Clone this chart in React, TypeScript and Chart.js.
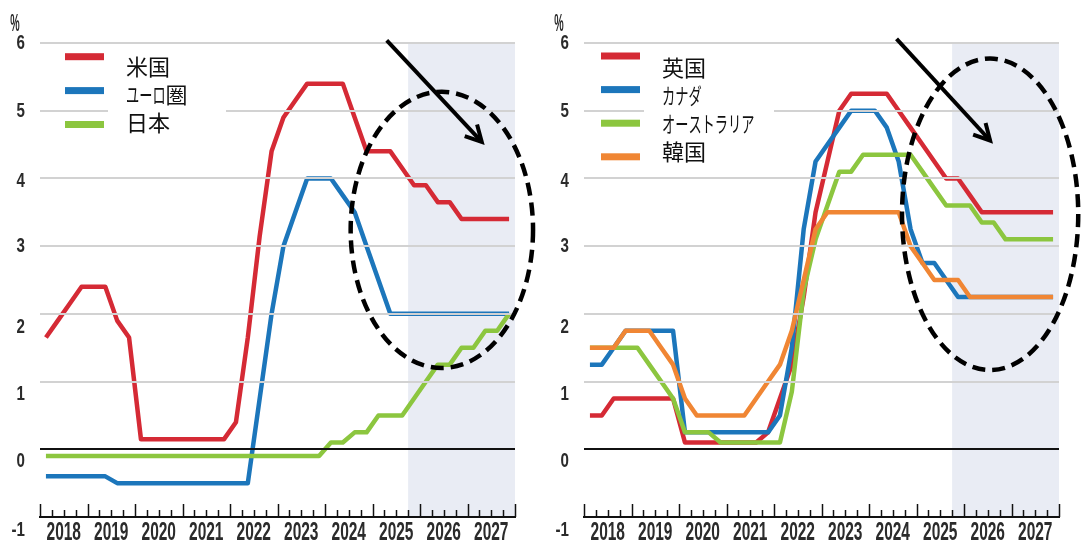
import React, { useEffect, useRef } from 'react';
import { Chart, registerables } from 'chart.js';

Chart.register(...registerables);

// Quarterly periods on the horizontal axis
const years = ['2018', '2019', '2020', '2021', '2022', '2023', '2024', '2025', '2026', '2027'];
const quarters = ['Q1', 'Q2', 'Q3', 'Q4'];
const quarterLabels = years.flatMap((y) => quarters.map((q) => `${y}${q}`));

// First projected quarter (shaded from here on)
const forecastStart = 2025.75;

// Policy rates, % (2018Q1 – 2027Q4)
const usRate = [1.65, 1.9, 2.15, 2.4, 2.4, 2.4, 1.9, 1.65, 0.15, 0.15, 0.15, 0.15, 0.15, 0.15, 0.15, 0.15, 0.4, 1.65, 3.15, 4.4, 4.9, 5.15, 5.4, 5.4, 5.4, 5.4, 4.9, 4.4, 4.4, 4.4, 4.15, 3.9, 3.9, 3.65, 3.65, 3.4, 3.4, 3.4, 3.4, 3.4];
const euroRate = [-0.4, -0.4, -0.4, -0.4, -0.4, -0.4, -0.5, -0.5, -0.5, -0.5, -0.5, -0.5, -0.5, -0.5, -0.5, -0.5, -0.5, -0.5, 0.75, 2.0, 3.0, 3.5, 4.0, 4.0, 4.0, 3.75, 3.5, 3.0, 2.5, 2.0, 2.0, 2.0, 2.0, 2.0, 2.0, 2.0, 2.0, 2.0, 2.0, 2.0];
const japanRate = [-0.1, -0.1, -0.1, -0.1, -0.1, -0.1, -0.1, -0.1, -0.1, -0.1, -0.1, -0.1, -0.1, -0.1, -0.1, -0.1, -0.1, -0.1, -0.1, -0.1, -0.1, -0.1, -0.1, -0.1, 0.1, 0.1, 0.25, 0.25, 0.5, 0.5, 0.5, 0.75, 1.0, 1.25, 1.25, 1.5, 1.5, 1.75, 1.75, 2.0];
const ukRate = [0.5, 0.5, 0.75, 0.75, 0.75, 0.75, 0.75, 0.75, 0.1, 0.1, 0.1, 0.1, 0.1, 0.1, 0.1, 0.25, 0.75, 1.25, 2.25, 3.5, 4.25, 5.0, 5.25, 5.25, 5.25, 5.25, 5.0, 4.75, 4.5, 4.25, 4.0, 4.0, 3.75, 3.5, 3.5, 3.5, 3.5, 3.5, 3.5, 3.5];
const canadaRate = [1.25, 1.25, 1.5, 1.75, 1.75, 1.75, 1.75, 1.75, 0.25, 0.25, 0.25, 0.25, 0.25, 0.25, 0.25, 0.25, 0.5, 1.5, 3.25, 4.25, 4.5, 4.75, 5.0, 5.0, 5.0, 4.75, 4.25, 3.25, 2.75, 2.75, 2.5, 2.25, 2.25, 2.25, 2.25, 2.25, 2.25, 2.25, 2.25, 2.25];
const australiaRate = [1.5, 1.5, 1.5, 1.5, 1.5, 1.25, 1.0, 0.75, 0.25, 0.25, 0.25, 0.1, 0.1, 0.1, 0.1, 0.1, 0.1, 0.85, 2.35, 3.1, 3.6, 4.1, 4.1, 4.35, 4.35, 4.35, 4.35, 4.35, 4.1, 3.85, 3.6, 3.6, 3.6, 3.35, 3.35, 3.1, 3.1, 3.1, 3.1, 3.1];
const koreaRate = [1.5, 1.5, 1.5, 1.75, 1.75, 1.75, 1.5, 1.25, 0.75, 0.5, 0.5, 0.5, 0.5, 0.5, 0.75, 1.0, 1.25, 1.75, 2.5, 3.25, 3.5, 3.5, 3.5, 3.5, 3.5, 3.5, 3.5, 3.0, 2.75, 2.5, 2.5, 2.5, 2.25, 2.25, 2.25, 2.25, 2.25, 2.25, 2.25, 2.25];

const RED = '#d52a35';
const BLUE = '#1c76bb';
const GREEN = '#8cc63f';
const ORANGE = '#f08634';

type Series = { label: string; color: string; values: number[] };

const leftSeries: Series[] = [
  { label: '米国', color: RED, values: usRate },
  { label: 'ユーロ圏', color: BLUE, values: euroRate },
  { label: '日本', color: GREEN, values: japanRate },
];
const rightSeries: Series[] = [
  { label: '英国', color: RED, values: ukRate },
  { label: 'カナダ', color: BLUE, values: canadaRate },
  { label: 'オーストラリア', color: GREEN, values: australiaRate },
  { label: '韓国', color: ORANGE, values: koreaRate },
];

// Highlight marks (ellipse + arrow) in axis units: years / percent
type Highlight = { cx: number; cy: number; rx: number; ry: number; from: [number, number]; to: [number, number] };
const leftHighlight: Highlight = { cx: 2026.46, cy: 3.24, rx: 1.92, ry: 2.04, from: [2025.3, 6.04], to: [2027.3, 4.54] };
const rightHighlight: Highlight = { cx: 2026.55, cy: 3.47, rx: 1.855, ry: 2.3, from: [2024.58, 6.06], to: [2026.55, 4.56] };

const quarterX = (label: string) => Number(label.slice(0, 4)) + (Number(label.slice(5)) - 0.5) / 4;

// y-label vertical nudges (px) for the lower part of the axis
const yLabelNudge: Record<string, number> = { '-1': 13, '0': 12, '1': 13, '2': 13, '4': 3 };

type LegendLayout = {
  swatchLeft: number; swatchTop: number; swatchStep: number;
  textLeft: number; textTop: number; textStep: number;
  box: [number, number, number, number];
};

type PanelProps = {
  left: number; width: number; axisWidth: number; padRight: number;
  series: Series[]; highlight: Highlight; legend: LegendLayout;
};

const HEIGHT = 545;
const isKana = (ch: string) => /[\u30A0-\u30FF]/.test(ch);

// Draws a legend label; katakana runs are set condensed
function drawLegendText(ctx: CanvasRenderingContext2D, text: string, x: number, y: number) {
  const runs: { kana: boolean; s: string }[] = [];
  for (const ch of text) {
    const k = isKana(ch);
    const last = runs[runs.length - 1];
    if (last && last.kana === k) last.s += ch;
    else runs.push({ kana: k, s: ch });
  }
  let cx = x;
  runs.forEach((r) => {
    const w = ctx.measureText(r.s).width;
    const sx = r.kana ? 0.6 : 1;
    ctx.save();
    ctx.translate(cx, y);
    ctx.scale(sx, 1);
    ctx.fillText(r.s, 0, 0);
    ctx.restore();
    cx += w * sx;
  });
}

function RatePanel({ left, width, axisWidth, padRight, series, highlight, legend }: PanelProps) {
  const ref = useRef<HTMLCanvasElement>(null);

  useEffect(() => {
    const canvas = ref.current;
    if (!canvas) return;

    const overlay = {
      id: 'rateOverlay',
      beforeDraw(chart: any) {
        const { ctx, chartArea: a } = chart;
        const xs = chart.scales.x;
        const x0 = xs.getPixelForValue(forecastStart);
        ctx.save();
        ctx.fillStyle = '#e9ecf4';
        ctx.fillRect(x0, a.top, a.right - x0, a.bottom - a.top);
        ctx.restore();
      },
      afterDraw(chart: any) {
        const { ctx, chartArea: a } = chart;
        const xs = chart.scales.x;
        const ys = chart.scales.y;
        ctx.save();

        // quarter tick marks pointing up from the axis
        ctx.strokeStyle = '#111';
        ctx.lineWidth = 1.5;
        const marks: { v: number; major: boolean }[] = [];
        years.forEach((y) => quarters.forEach((_, qi) => marks.push({ v: Number(y) + qi / 4, major: qi === 0 })));
        marks.push({ v: Number(years[years.length - 1]) + 1, major: true });
        marks.forEach(({ v, major }) => {
          const px = Math.round(xs.getPixelForValue(v)) + 0.5;
          ctx.beginPath();
          ctx.moveTo(px, a.bottom);
          ctx.lineTo(px, a.bottom - (major ? 13 : 7));
          ctx.stroke();
        });

        // year labels, centred on each year
        ctx.fillStyle = '#2b2b2b';
        ctx.font = 'bold 25px "Liberation Sans", Arial, sans-serif';
        ctx.textAlign = 'center';
        ctx.textBaseline = 'middle';
        years.forEach((y) => {
          const px = xs.getPixelForValue(Number(y) + 0.5);
          ctx.save();
          ctx.translate(px, a.bottom + 16);
          ctx.scale(0.62, 1);
          ctx.fillText(y, 0, 0);
          ctx.restore();
        });

        // value labels on the left
        ctx.font = 'bold 21px "Liberation Sans", Arial, sans-serif';
        ctx.textAlign = 'right';
        ys.ticks.forEach((t: any) => {
          const label = String(t.value);
          const py = ys.getPixelForValue(t.value) + (yLabelNudge[label] || 0);
          ctx.save();
          ctx.translate(a.left - 15, py);
          ctx.scale(0.72, 1);
          ctx.fillText(label, 0, 0);
          ctx.restore();
        });

        // unit
        ctx.save();
        ctx.font = 'bold 24px "Liberation Sans", Arial, sans-serif';
        ctx.textAlign = 'center';
        ctx.translate(a.left - 25, 24);
        ctx.scale(0.44, 1);
        ctx.fillText('%', 0, 0);
        ctx.restore();

        // legend: white panel behind the names, colour bars and names
        const [bx0, by0, bx1, by1] = legend.box;
        ctx.fillStyle = '#fff';
        ctx.fillRect(bx0, by0, bx1 - bx0, by1 - by0);
        chart.data.datasets.forEach((ds: any, i: number) => {
          ctx.fillStyle = ds.borderColor;
          ctx.fillRect(legend.swatchLeft, legend.swatchTop + i * legend.swatchStep - 3.5, 39, 7);
        });
        ctx.fillStyle = '#111';
        ctx.font = '22px "Noto Sans CJK JP", "Noto Sans", sans-serif';
        ctx.textAlign = 'left';
        ctx.textBaseline = 'middle';
        chart.data.datasets.forEach((ds: any, i: number) => {
          drawLegendText(ctx, ds.label, legend.textLeft, legend.textTop + i * legend.textStep);
        });

        // dashed ellipse
        const cx = xs.getPixelForValue(highlight.cx);
        const cy = ys.getPixelForValue(highlight.cy);
        const rx = Math.abs(xs.getPixelForValue(highlight.cx + highlight.rx) - cx);
        const ry = Math.abs(ys.getPixelForValue(highlight.cy + highlight.ry) - cy);
        ctx.strokeStyle = '#000';
        ctx.lineWidth = 4.5;
        ctx.setLineDash([13, 7]);
        ctx.beginPath();
        ctx.ellipse(cx, cy, rx, ry, 0, 0, Math.PI * 2);
        ctx.stroke();
        ctx.setLineDash([]);

        // arrow
        const fx = xs.getPixelForValue(highlight.from[0]);
        const fy = ys.getPixelForValue(highlight.from[1]);
        const tx = xs.getPixelForValue(highlight.to[0]);
        const ty = ys.getPixelForValue(highlight.to[1]);
        ctx.lineWidth = 4;
        ctx.lineCap = 'butt';
        ctx.beginPath();
        ctx.moveTo(fx, fy);
        ctx.lineTo(tx, ty);
        ctx.stroke();
        const ang = Math.atan2(fy - ty, fx - tx);
        const head = 18;
        const spread = (28 * Math.PI) / 180;
        ctx.beginPath();
        ctx.moveTo(tx + head * Math.cos(ang - spread), ty + head * Math.sin(ang - spread));
        ctx.lineTo(tx, ty);
        ctx.lineTo(tx + head * Math.cos(ang + spread), ty + head * Math.sin(ang + spread));
        ctx.lineJoin = 'miter';
        ctx.stroke();

        ctx.restore();
      },
    };

    const chart = new Chart(canvas, {
      type: 'line',
      data: {
        datasets: series.map((s, i) => ({
          label: s.label,
          data: s.values.map((v, k) => ({ x: quarterX(quarterLabels[k]), y: v })),
          borderColor: s.color,
          backgroundColor: s.color,
          borderWidth: 4.5,
          borderJoinStyle: 'round' as const,
          pointRadius: 0,
          fill: false,
          tension: 0,
          order: -i,
        })),
      },
      options: {
        animation: false,
        responsive: false,
        maintainAspectRatio: false,
        layout: { padding: { top: 43, right: padRight, bottom: 0, left: 0 } },
        plugins: { legend: { display: false }, tooltip: { enabled: false } },
        scales: {
          x: {
            type: 'linear',
            min: 2018,
            max: 2028,
            ticks: { display: false },
            grid: { display: false },
            border: { display: true, color: '#111', width: 2 },
            afterFit: (s: any) => { s.height = 28; },
          },
          y: {
            min: -1,
            max: 6,
            ticks: { display: false, stepSize: 1 },
            grid: {
              z: 1,
              drawTicks: false,
              color: (c: any) => (c.tick && c.tick.value <= 0 ? '#111' : '#d2d2d2'),
              lineWidth: 2,
            },
            border: { display: false },
            afterFit: (s: any) => { s.width = axisWidth; },
          },
        },
      },
      plugins: [overlay],
    } as any);

    return () => chart.destroy();
  }, []);

  return (
    <div style={{ position: 'absolute', left, top: 0, width, height: HEIGHT }}>
      <canvas ref={ref} width={width} height={HEIGHT} style={{ display: 'block', width, height: HEIGHT }} />
    </div>
  );
}

export default function App() {
  return (
    <div style={{ position: 'absolute', left: 0, top: 0, width: 1081, height: HEIGHT, background: '#fff', overflow: 'hidden' }}>
      <RatePanel
        left={0}
        width={540}
        axisWidth={40}
        padRight={25}
        series={leftSeries}
        highlight={leftHighlight}
        legend={{ swatchLeft: 65, swatchTop: 56.7, swatchStep: 33.9, textLeft: 126, textTop: 66.7, textStep: 28.2, box: [108, 47, 226, 147] }}
      />
      <RatePanel
        left={540}
        width={541}
        axisWidth={44}
        padRight={22}
        series={rightSeries}
        highlight={rightHighlight}
        legend={{ swatchLeft: 61, swatchTop: 56, swatchStep: 33.6, textLeft: 122, textTop: 67.5, textStep: 28.2, box: [104, 45, 234, 175] }}
      />
    </div>
  );
}
